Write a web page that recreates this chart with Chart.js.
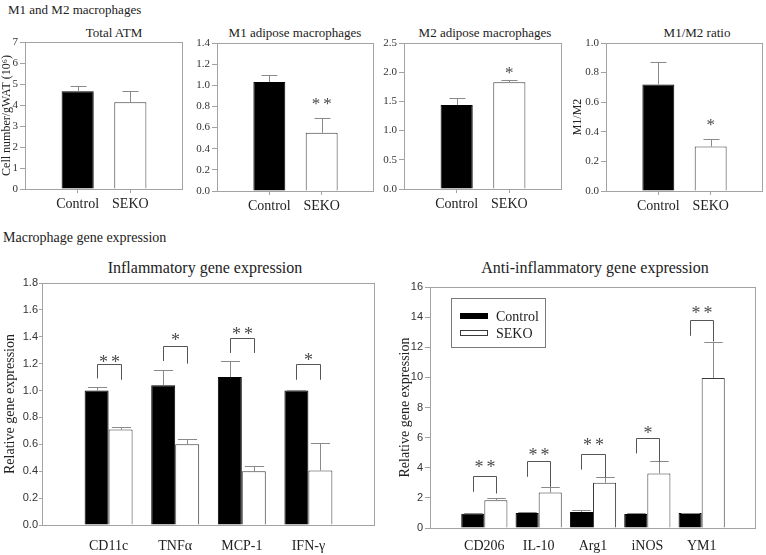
<!DOCTYPE html>
<html>
<head>
<meta charset="utf-8">
<script src="https://cdn.jsdelivr.net/npm/chart.js@4/dist/chart.umd.min.js"></script>
<style>
html,body{margin:0;padding:0;background:#fff;}
#wrap{position:relative;width:766px;height:555px;overflow:hidden;font-family:"Liberation Serif","Times New Roman",serif;color:#222;}
#wrap canvas{position:absolute;left:0;top:0;}
.t{position:absolute;white-space:nowrap;line-height:1;}
.c{transform:translate(-50%,-50%);}
</style>
</head>
<body>
<div id="wrap">
  <div class="t" style="left:8px;top:3px;font-size:13px;">M1 and M2 macrophages</div>
  <div class="t" style="left:3px;top:231px;font-size:14px;">Macrophage gene expression</div>
  <div class="t c" style="left:114px;top:32px;font-size:13px;">Total ATM</div>
  <div class="t c" style="left:295px;top:32px;font-size:13px;">M1 adipose macrophages</div>
  <div class="t c" style="left:485px;top:32px;font-size:13px;">M2 adipose macrophages</div>
  <div class="t c" style="left:697px;top:32px;font-size:13px;">M1/M2 ratio</div>
  <div class="t c" style="left:205px;top:268px;font-size:16px;">Inflammatory gene expression</div>
  <div class="t c" style="left:595px;top:268px;font-size:16px;">Anti-inflammatory gene expression</div>
  <canvas id="c1" width="766" height="555"></canvas>
  <canvas id="c2" width="766" height="555"></canvas>
  <canvas id="c3" width="766" height="555"></canvas>
  <canvas id="c4" width="766" height="555"></canvas>
  <canvas id="c5" width="766" height="555"></canvas>
  <canvas id="c6" width="766" height="555"></canvas>
</div>
<script>
// ---------------- data ----------------
const groups = ['Control', 'SEKO'];

const totalAtm = [4.65, 4.13];
const totalAtmErr = [0.26, 0.52];

const m1Macro = [1.03, 0.55];
const m1MacroErr = [0.065, 0.14];
const m1MacroSig = ['', '**'];
const m1MacroSigY = [null, 0.85];

const m2Macro = [1.44, 1.83];
const m2MacroErr = [0.12, 0.03];
const m2MacroSig = ['', '*'];
const m2MacroSigY = [null, 2.03];

const m1m2Ratio = [0.72, 0.30];
const m1m2RatioErr = [0.15, 0.05];
const m1m2RatioSig = ['', '*'];
const m1m2RatioSigY = [null, 0.46];

const inflGenes = ['CD11c', 'TNFα', 'MCP-1', 'IFN-γ'];
const inflControl = [1.00, 1.04, 1.10, 1.00];
const inflControlErr = [0.03, 0.115, 0.12, 0.005];
const inflSeko = [0.71, 0.60, 0.40, 0.405];
const inflSekoErr = [0.02, 0.04, 0.04, 0.205];
const inflSig = ['**', '*', '**', '*'];
const inflSigY = [1.24, 1.40, 1.45, 1.25];
const inflBracketTop = [1.20, 1.33, 1.39, 1.20];
const inflBracketLeft = [1.09, 1.22, 1.28, 1.08];
const inflBracketRight = [1.08, 1.20, 1.28, 1.08];

const antiGenes = ['CD206', 'IL-10', 'Arg1', 'iNOS', 'YM1'];
const antiControl = [0.95, 1.00, 1.07, 0.93, 1.00];
const antiControlErr = [0.03, 0.03, 0.15, 0.05, 0.02];
const antiSeko = [1.84, 2.35, 3.00, 3.62, 9.96];
const antiSekoErr = [0.18, 0.34, 0.37, 0.82, 2.42];
const antiSig = ['**', '**', '**', '*', '**'];
const antiSigY = [4.28, 5.06, 5.73, 6.55, 14.49];
const antiBracketTop = [3.46, 4.46, 4.90, 5.99, 13.83];
const antiBracketLeft = [2.40, 3.40, 3.88, 4.95, 12.76];
const antiBracketRight = [2.29, 2.73, 3.35, 4.39, 12.38];

// y axis ranges: [min, max, step, decimals]
const atmAxis = [0, 7, 1, 0];
const m1Axis = [0, 1.4, 0.2, 1];
const m2Axis = [0, 2.5, 0.5, 1];
const ratioAxis = [0, 1.0, 0.2, 1];
const inflAxis = [0, 1.8, 0.2, 1];
const antiAxis = [0, 16, 2, 0];

// ---------------- styling ----------------
const SERIF = '"Liberation Serif","Times New Roman",serif';
const SANS = '"Liberation Sans",Arial,sans-serif';
const FRAME = '#a3a3a3';
const ERRC = '#8a8a8a';
const MARK = '#4a4a4a';
Chart.defaults.font.family = SERIF;
Chart.defaults.color = '#333';

const pad = a => [null, ...a, null];
const padL = a => ['', ...a, ''];

const extras = {
  id: 'extras',
  afterDatasetsDraw(chart, args, o) {
    const ctx = chart.ctx, ca = chart.chartArea, ys = chart.scales.y;
    ctx.save();
    ctx.lineWidth = 1;
    // error bars
    chart.data.datasets.forEach((ds, di) => {
      const meta = chart.getDatasetMeta(di);
      meta.data.forEach((bar, i) => {
        const v = ds.data[i], e = ds.errs ? ds.errs[i] : null;
        if (v == null || e == null) return;
        const x = Math.round(bar.x) + 0.5;
        const y0 = ys.getPixelForValue(v), y1 = Math.round(ys.getPixelForValue(v + e)) + 0.5;
        const hw = bar.width * o.capFrac / 2;
        ctx.strokeStyle = ERRC;
        ctx.beginPath();
        ctx.moveTo(x, y0); ctx.lineTo(x, y1);
        ctx.moveTo(x - hw, y1); ctx.lineTo(x + hw, y1);
        ctx.stroke();
      });
    });
    // frame
    ctx.strokeStyle = FRAME;
    ctx.strokeRect(Math.round(ca.left) + 0.5, Math.round(ca.top) + 0.5,
                   Math.round(ca.right - ca.left) - 1, Math.round(ca.bottom - ca.top));
    // stars
    const drawStars = (txt, cx, vy) => {
      if (!txt) return;
      ctx.font = o.starSize + 'px ' + SERIF;
      ctx.fillStyle = MARK;
      ctx.textAlign = 'left';
      ctx.textBaseline = 'alphabetic';
      const m = ctx.measureText('*');
      const sw = m.width, gap = o.starGap;
      const total = txt.length * sw + (txt.length - 1) * gap;
      const py = ys.getPixelForValue(vy);
      const base = py + (m.actualBoundingBoxAscent - m.actualBoundingBoxDescent) / 2;
      for (let k = 0; k < txt.length; k++) ctx.fillText('*', cx - total / 2 + k * (sw + gap), base);
    };
    if (o.sig) {
      const meta = chart.getDatasetMeta(0);
      o.sig.forEach((s, i) => { if (s) drawStars(s, meta.data[i + 1].x, o.sigY[i]); });
    }
    if (o.brackets) {
      const b = o.brackets, m0 = chart.getDatasetMeta(0), m1 = chart.getDatasetMeta(1);
      ctx.strokeStyle = '#555';
      b.sig.forEach((s, i) => {
        const xl = Math.round(m0.data[i + 1].x) + 0.5, xr = Math.round(m1.data[i + 1].x) + 0.5;
        const yt = Math.round(ys.getPixelForValue(b.top[i])) + 0.5;
        ctx.beginPath();
        ctx.moveTo(xl, ys.getPixelForValue(b.left[i]));
        ctx.lineTo(xl, yt); ctx.lineTo(xr, yt);
        ctx.lineTo(xr, ys.getPixelForValue(b.right[i]));
        ctx.stroke();
        drawStars(s, (xl + xr) / 2, b.sigY[i]);
      });
    }
    if (o.legend) {
      const L = o.legend;
      ctx.strokeStyle = '#7a7a7a';
      ctx.strokeRect(L.x + 0.5, L.y + 0.5, L.w, L.h);
      ctx.font = '14px ' + SERIF;
      ctx.textBaseline = 'middle';
      ctx.textAlign = 'left';
      chart.data.datasets.forEach((ds, i) => {
        const yy = L.y + L.first + i * L.step;
        ctx.fillStyle = ds.backgroundColor;
        ctx.fillRect(L.x + 9, yy - 3, 28, 6);
        ctx.strokeStyle = ds.borderColor;
        ctx.strokeRect(L.x + 9.5, yy - 2.5, 27, 5);
        ctx.fillStyle = '#222';
        ctx.fillText(ds.label, L.x + 45, yy + 1);
      });
    }
    ctx.restore();
  }
};

function makeChart(id, rect, yW, axis, labels, datasets, cfg) {
  const H = 30;
  return new Chart(document.getElementById(id), {
    type: 'bar',
    data: { labels: padL(labels), datasets },
    options: {
      responsive: false, animation: false, events: [],
      layout: { padding: { left: rect[0] - yW, top: rect[1], right: 766 - rect[2], bottom: 555 - rect[3] - H } },
      plugins: { legend: { display: false }, tooltip: { enabled: false }, extras: cfg.extras },
      scales: {
        x: {
          type: 'category', offset: false,
          grid: { offset: false, drawOnChartArea: false, drawTicks: cfg.xTicks > 0, tickLength: cfg.xTicks || 0,
                  color: c => (c.tick && c.tick.label) ? FRAME : 'rgba(0,0,0,0)' },
          border: { display: false },
          ticks: { autoSkip: false, maxRotation: 0, padding: cfg.xPad, color: '#222', font: { family: SERIF, size: 14 } },
          afterFit: s => { s.height = H; }
        },
        y: {
          min: axis[0], max: axis[1],
          grid: { drawOnChartArea: false, tickLength: cfg.yTick, color: FRAME },
          border: { display: false },
          ticks: { stepSize: axis[2], padding: cfg.yPad, color: '#333', font: cfg.yFont,
                   callback: v => Number(v).toFixed(axis[3]) },
          title: cfg.yTitle ? { display: true, text: cfg.yTitle, padding: 0, color: '#222', font: { family: SERIF, size: cfg.yTitleSize } } : { display: false },
          afterFit: s => { s.width = yW; }
        }
      }
    },
    plugins: [extras]
  });
}

function topDataset(values, errs) {
  return [{
    label: 'value',
    data: pad(values), errs: pad(errs),
    backgroundColor: ['rgba(0,0,0,0)', '#000000', '#ffffff', 'rgba(0,0,0,0)'],
    borderColor: ['rgba(0,0,0,0)', '#000000', '#3a3a3a', 'rgba(0,0,0,0)'],
    borderWidth: 1, borderSkipped: 'bottom',
    categoryPercentage: 0.61, barPercentage: 1
  }];
}
const topCfg = (title, sig, sigY) => ({
  xTicks: 4, xPad: 3, yTick: 5, yPad: 2,
  yFont: { family: SERIF, size: 11 }, yTitle: title, yTitleSize: 12,
  extras: { capFrac: 0.5, starSize: 17, starGap: 3, sig: sig, sigY: sigY }
});

makeChart('c1', [25, 42, 183, 189], 25, atmAxis, groups, topDataset(totalAtm, totalAtmErr),
  topCfg('Cell number/gWAT (10\u2076)', null, null));
makeChart('c2', [217, 43, 374, 191], 30, m1Axis, groups, topDataset(m1Macro, m1MacroErr),
  topCfg(null, m1MacroSig, m1MacroSigY));
makeChart('c3', [404, 43, 562, 189], 30, m2Axis, groups, topDataset(m2Macro, m2MacroErr),
  topCfg(null, m2MacroSig, m2MacroSigY));
makeChart('c4', [606, 43, 765, 191], 35, ratioAxis, groups, topDataset(m1m2Ratio, m1m2RatioErr),
  topCfg('M1/M2', m1m2RatioSig, m1m2RatioSigY));

function geneDatasets(ctrl, ctrlErr, seko, sekoErr, cat) {
  return [
    { label: groups[0], data: pad(ctrl), errs: pad(ctrlErr), backgroundColor: '#000000', borderColor: '#000000',
      borderWidth: 1, borderSkipped: 'bottom', categoryPercentage: cat, barPercentage: 1 },
    { label: groups[1], data: pad(seko), errs: pad(sekoErr), backgroundColor: '#ffffff', borderColor: '#3a3a3a',
      borderWidth: 1, borderSkipped: 'bottom', categoryPercentage: cat, barPercentage: 1 }
  ];
}

makeChart('c5', [42, 283, 375, 525], 40, inflAxis, inflGenes,
  geneDatasets(inflControl, inflControlErr, inflSeko, inflSekoErr, 0.72),
  { xTicks: 0, xPad: 13, yTick: 3, yPad: 1, yFont: { family: SANS, size: 11 },
    yTitle: 'Relative gene expression', yTitleSize: 14,
    extras: { capFrac: 0.8, starSize: 18, starGap: 3,
      brackets: { sig: inflSig, sigY: inflSigY, top: inflBracketTop, left: inflBracketLeft, right: inflBracketRight } } });

makeChart('c6', [430, 287, 760, 528], 33, antiAxis, antiGenes,
  geneDatasets(antiControl, antiControlErr, antiSeko, antiSekoErr, 0.85),
  { xTicks: 0, xPad: 10, yTick: 5, yPad: 2, yFont: { family: SANS, size: 11 },
    yTitle: 'Relative gene expression', yTitleSize: 14,
    extras: { capFrac: 0.8, starSize: 18, starGap: 3,
      brackets: { sig: antiSig, sigY: antiSigY, top: antiBracketTop, left: antiBracketLeft, right: antiBracketRight },
      legend: { x: 451, y: 298, w: 94, h: 49, first: 18, step: 17 } } });
</script>
</body>
</html>
